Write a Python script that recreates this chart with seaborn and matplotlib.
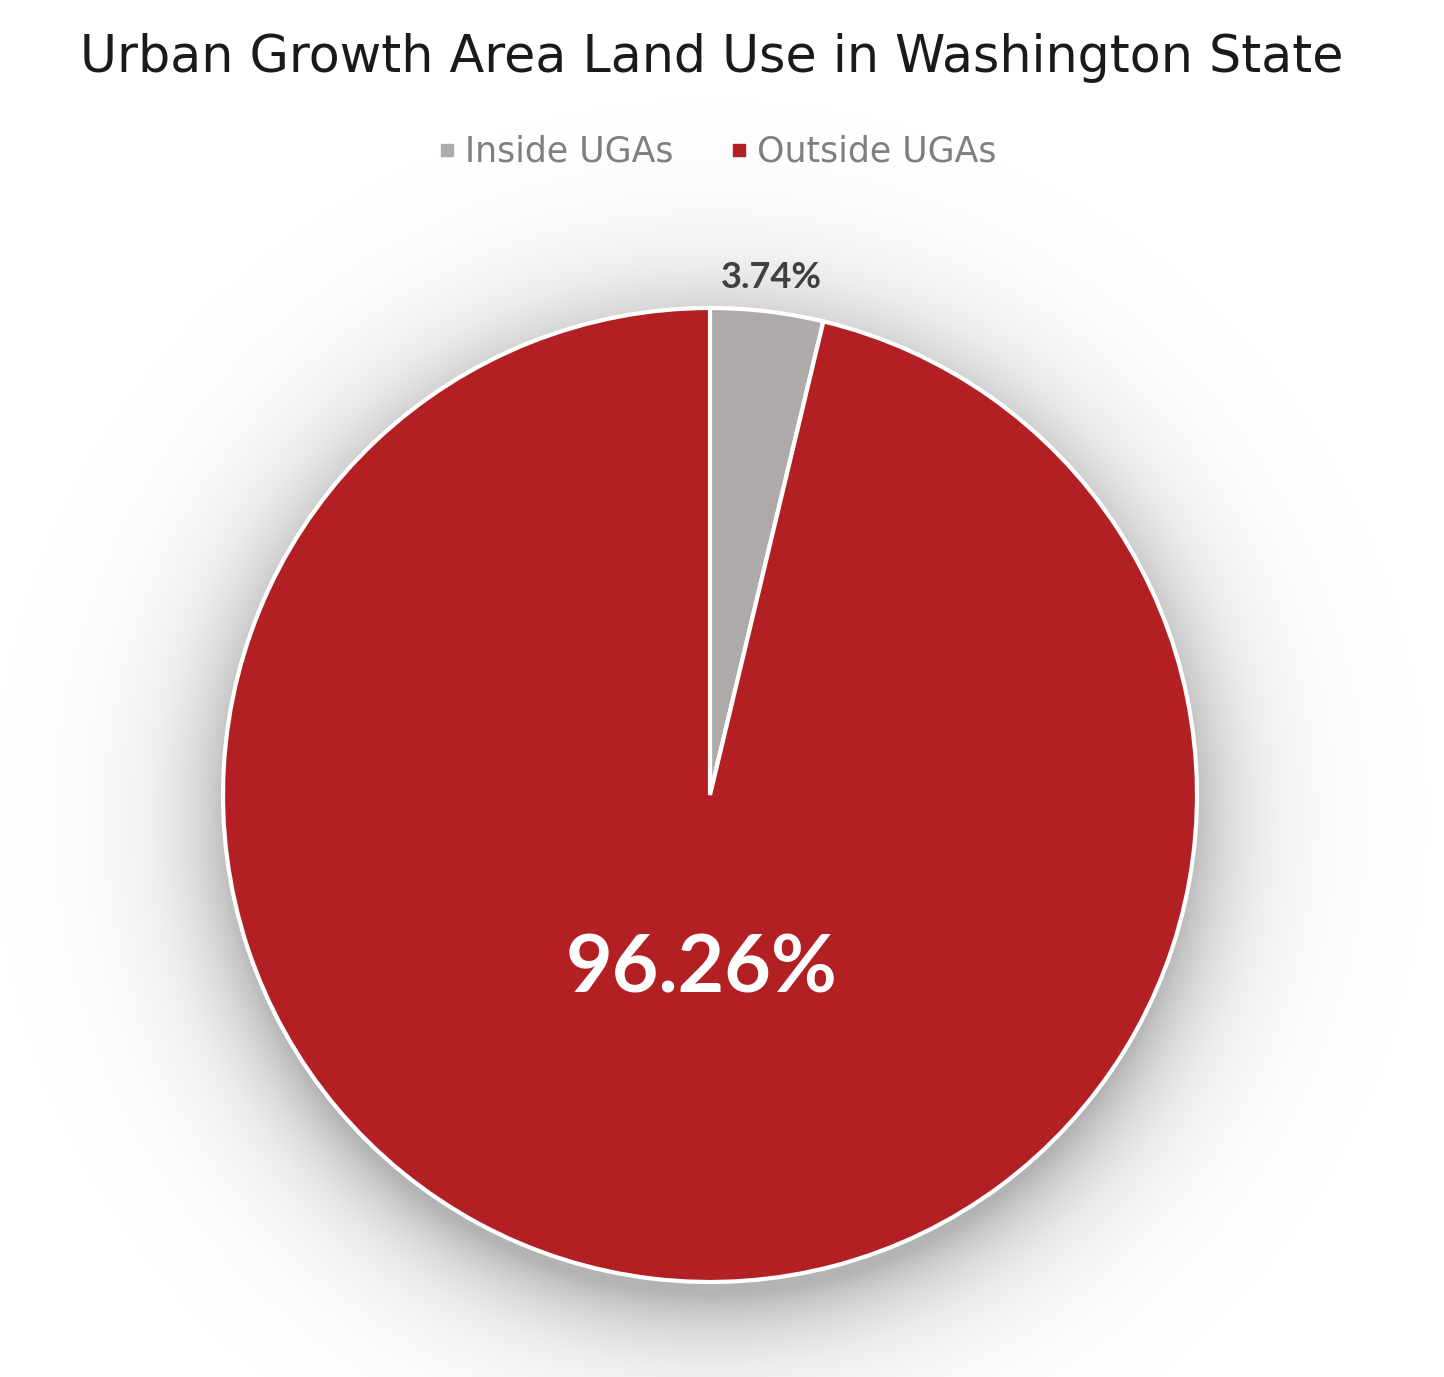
import numpy as np
import matplotlib
matplotlib.use("Agg")
import matplotlib.pyplot as plt
import seaborn as sns
from matplotlib.lines import Line2D

# Data
categories = ["Inside UGAs", "Outside UGAs"]
shares = [3.74, 96.26]
colors = ["#AEAAAA", "#B22024"]
label_colors = ["#404040", "white"]
label_sizes = [26, 58]
label_radius = [1.07, 0.36]

W, H = 1444, 1377


def main():
    sns.set_theme(style="white")
    plt.rcParams["font.family"] = ["Lato", "DejaVu Sans"]

    fig = plt.figure(figsize=(W / 100, H / 100), dpi=100)
    ax = fig.add_axes([0, 0, 1, 1])

    cx, cy, R = 710, H - 795, 487

    # soft drop shadow
    xx, yy = np.meshgrid(np.arange(W), np.arange(H))
    d = np.hypot(xx - cx, yy - (cy - 22))
    dark = np.clip(0.30 * np.exp(-np.clip(d - R + 10, 0, None) / 55.0), 0, 1)
    img = np.zeros((H, W, 4))
    img[..., 3] = dark
    ax.imshow(img, extent=(0, W, 0, H), origin="lower", zorder=0,
              interpolation="bilinear")

    wedges, _ = ax.pie(
        shares, colors=colors, startangle=90, counterclock=False,
        radius=R, center=(cx, cy), frame=True,
        wedgeprops=dict(edgecolor="white", linewidth=3),
    )
    for w in wedges:
        w.set_zorder(2)
    ax.set_xlim(0, W)
    ax.set_ylim(0, H)
    ax.set_aspect("equal")
    ax.axis("off")

    for w, v, c, s, r in zip(wedges, shares, label_colors, label_sizes, label_radius):
        ang = np.deg2rad((w.theta1 + w.theta2) / 2)
        nudge = 12 if r < 1 else 0
        ax.text(cx + r * R * np.cos(ang) + nudge, cy + r * R * np.sin(ang), f"{v:.2f}%",
                ha="center", va="center", color=c, fontsize=s,
                fontweight="bold", zorder=3)

    fig.text(0.493, 1 - 58 / H, "Urban Growth Area Land Use in Washington State",
             ha="center", va="center", fontsize=36.5, color="#1a1a1a",
             family=["DejaVu Sans"])

    handles = [Line2D([], [], marker="s", linestyle="none", markersize=9,
                      markerfacecolor=c, markeredgecolor=c) for c in colors]
    fig.legend(handles, categories, loc="center", bbox_to_anchor=(0.495, 1 - 152 / H),
               ncol=2, frameon=False, labelcolor="#7f7f7f",
               prop=dict(family="DejaVu Sans", size=25),
               handletextpad=0.1, columnspacing=1.5, handlelength=0.8)

    fig.savefig("out.png", dpi=100, facecolor="white")


if __name__ == "__main__":
    main()
